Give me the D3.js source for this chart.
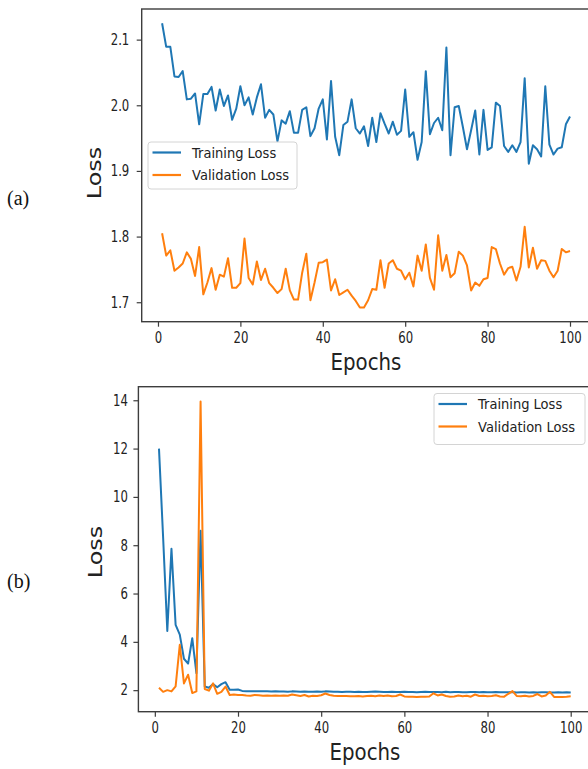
<!DOCTYPE html>
<html>
<head>
<meta charset="utf-8">
<script src="https://cdn.jsdelivr.net/npm/d3@7"></script>
<style>
  body { margin: 0; background: #fff; }
  svg { display: block; font-family: "DejaVu Sans", sans-serif; }
</style>
</head>
<body>
<script>
const W = 588, H = 769;

// epochs 1..100
const epochs = d3.range(1, 101);
const xTicks = [0, 20, 40, 60, 80, 100];
const yTicksA = [1.7, 1.8, 1.9, 2.0, 2.1];
const yTicksB = [2, 4, 6, 8, 10, 12, 14];
const seriesNames = ['Training Loss', 'Validation Loss'];

// panel (a)
const trainA = [
  2.125, 2.089, 2.089, 2.044, 2.043, 2.052, 2.009, 2.010, 2.018, 1.971,
  2.017, 2.017, 2.028, 1.992, 2.024, 1.999, 2.015, 1.978, 1.995, 2.029,
  2.000, 2.012, 1.986, 2.012, 2.032, 1.981, 1.993, 1.986, 1.945, 1.977,
  1.972, 1.991, 1.958, 1.958, 1.993, 1.997, 1.953, 1.965, 1.995, 2.009,
  1.948, 2.037, 1.952, 1.924, 1.970, 1.975, 2.009, 1.965, 1.957, 1.968,
  1.938, 1.981, 1.944, 1.988, 1.972, 1.957, 1.975, 1.955, 1.961, 2.024,
  1.952, 1.959, 1.917, 1.944, 2.052, 1.956, 1.973, 1.981, 1.962, 2.088,
  1.924, 1.997, 1.999, 1.967, 1.933, 1.962, 1.992, 1.925, 1.993, 1.932,
  1.936, 2.004, 1.999, 1.938, 1.929, 1.939, 1.929, 1.944, 2.041, 1.911,
  1.939, 1.933, 1.922, 2.029, 1.940, 1.925, 1.934, 1.936, 1.971, 1.983
];
const valA = [
  1.805, 1.771, 1.779, 1.748, 1.753, 1.759, 1.776, 1.766, 1.740, 1.784,
  1.712, 1.730, 1.752, 1.719, 1.742, 1.739, 1.767, 1.722, 1.722, 1.729,
  1.797, 1.737, 1.727, 1.762, 1.734, 1.751, 1.729, 1.722, 1.714, 1.720,
  1.751, 1.718, 1.704, 1.704, 1.745, 1.774, 1.703, 1.730, 1.760, 1.761,
  1.765, 1.718, 1.735, 1.711, 1.715, 1.719, 1.710, 1.702, 1.692, 1.692,
  1.703, 1.720, 1.719, 1.764, 1.722, 1.759, 1.764, 1.751, 1.748, 1.735,
  1.745, 1.724, 1.771, 1.748, 1.788, 1.737, 1.719, 1.802, 1.748, 1.772,
  1.738, 1.744, 1.777, 1.771, 1.756, 1.718, 1.730, 1.725, 1.735, 1.737,
  1.784, 1.781, 1.759, 1.742, 1.752, 1.754, 1.733, 1.754, 1.815, 1.753,
  1.783, 1.751, 1.764, 1.763, 1.748, 1.738, 1.748, 1.781, 1.776, 1.778
];

// panel (b)
const trainB = [
  12.0, 8.3, 4.45, 7.85, 4.7, 4.3, 3.3, 3.1, 4.15, 2.7,
  8.6, 2.15, 2.1, 2.25, 2.12, 2.25, 2.33, 2.02, 2.02, 2.03,
  1.97, 1.96, 1.96, 1.95, 1.96, 1.95, 1.95, 1.94, 1.95, 1.94,
  1.94, 1.93, 1.95, 1.94, 1.93, 1.94, 1.93, 1.93, 1.94, 1.93,
  1.95, 1.94, 1.93, 1.93, 1.92, 1.93, 1.93, 1.92, 1.93, 1.92,
  1.92, 1.93, 1.94, 1.93, 1.92, 1.92, 1.93, 1.92, 1.92, 1.93,
  1.92, 1.92, 1.91, 1.92, 1.93, 1.92, 1.92, 1.92, 1.91, 1.93,
  1.91, 1.92, 1.92, 1.91, 1.91, 1.92, 1.92, 1.91, 1.92, 1.91,
  1.91, 1.92, 1.91, 1.91, 1.91, 1.92, 1.90, 1.91, 1.91, 1.90,
  1.91, 1.90, 1.91, 1.91, 1.90, 1.90, 1.91, 1.90, 1.91, 1.90
];
const valB = [
  2.1, 1.93, 2.0, 1.95, 2.16, 3.88, 2.28, 2.64, 1.88, 1.95,
  13.95, 2.05, 1.98, 2.28, 1.85, 1.93, 2.15, 1.8, 1.82, 1.8,
  1.8, 1.78, 1.77, 1.8, 1.79, 1.77, 1.78, 1.77, 1.78, 1.77,
  1.78, 1.77, 1.82, 1.79, 1.76, 1.8, 1.74, 1.77, 1.76, 1.79,
  1.86, 1.8, 1.77, 1.76, 1.76, 1.76, 1.75, 1.75, 1.76, 1.74,
  1.76, 1.77, 1.75, 1.78, 1.76, 1.78, 1.75, 1.76, 1.82, 1.74,
  1.73, 1.73, 1.72, 1.73, 1.73, 1.74, 1.87, 1.78, 1.82, 1.76,
  1.73, 1.74, 1.78, 1.75, 1.77, 1.73, 1.82, 1.76, 1.77, 1.75,
  1.76, 1.79, 1.74, 1.73, 1.85, 1.96, 1.76, 1.75, 1.77, 1.74,
  1.76, 1.84, 1.74, 1.78, 1.93, 1.72, 1.72, 1.72, 1.73, 1.75
];

const colors = ['#1f77b4', '#ff7f0e'];
const spineColor = '#3d3d3d';

const svg = d3.select('body').append('svg')
    .attr('width', W)
    .attr('height', H);

svg.append('rect').attr('width', W).attr('height', H).attr('fill', '#fff');

// the picture is squeezed sideways, so text is squeezed too
function sqText(g, str, x, y, size, sx, opt = {}) {
    const t = g.append('g')
        .attr('transform', `translate(${x},${y}) scale(${sx},1)` + (opt.rotate ? ` rotate(${opt.rotate})` : ''))
        .append('text')
        .attr('text-anchor', opt.anchor || 'middle')
        .attr('dominant-baseline', 'central')
        .attr('font-size', size)
        .attr('fill', opt.fill || '#222')
        .text(str);
    if (opt.family) t.attr('font-family', opt.family);
    return t;
}

function drawPanel(p) {
    const g = svg.append('g');

    const n = epochs.length;
    const xPad = (epochs[n - 1] - epochs[0]) * 0.05;
    const x = d3.scaleLinear()
        .domain([epochs[0] - xPad, epochs[n - 1] + xPad])
        .range([p.left, p.right]);

    const all = p.series.flat();
    const lo = d3.min(all), hi = d3.max(all);
    const yPad = (hi - lo) * 0.05;
    const y = d3.scaleLinear()
        .domain([lo - yPad, hi + yPad])
        .range([p.bottom, p.top]);

    // axes
    const xAxis = g.append('g')
        .attr('transform', `translate(0,${p.bottom})`)
        .call(d3.axisBottom(x).tickValues(xTicks).tickSize(5).tickPadding(6).tickFormat(d3.format('d')));
    const yAxis = g.append('g')
        .attr('transform', `translate(${p.left},0)`)
        .call(d3.axisLeft(y).tickValues(p.yTicks).tickSize(5).tickFormat(p.yFmt));

    [xAxis, yAxis].forEach(a => {
        a.select('.domain').remove();
        a.selectAll('.tick line').attr('stroke', spineColor).attr('stroke-width', 1.2);
        a.selectAll('.tick text')
            .attr('font-size', 15)
            .attr('font-family', '"DejaVu Sans", sans-serif')
            .attr('fill', '#222');
    });
    xAxis.selectAll('.tick text').attr('transform', 'scale(0.78,1)');
    yAxis.selectAll('.tick text')
        .attr('x', -p.yLabelGap / 0.78)
        .attr('transform', 'scale(0.78,1)');

    // lines
    const line = d3.line()
        .x((d, i) => x(epochs[i]))
        .y(d => y(d));

    p.series.forEach((s, k) => {
        g.append('path')
            .datum(s)
            .attr('d', line)
            .attr('fill', 'none')
            .attr('stroke', colors[k])
            .attr('stroke-width', 2)
            .attr('stroke-linejoin', 'round');
    });

    // spines
    g.append('rect')
        .attr('x', p.left).attr('y', p.top)
        .attr('width', p.right - p.left).attr('height', p.bottom - p.top)
        .attr('fill', 'none')
        .attr('stroke', spineColor)
        .attr('stroke-width', 1.4);

    // legend
    const lg = g.append('g');
    lg.append('rect')
        .attr('x', p.legend.x).attr('y', p.legend.y)
        .attr('width', p.legend.w).attr('height', p.legend.h)
        .attr('rx', 3)
        .attr('fill', '#fff').attr('fill-opacity', 0.85)
        .attr('stroke', '#d4d4d4');
    seriesNames.forEach((name, k) => {
        const ly = p.legend.y + 10.5 + k * 22.5;
        lg.append('line')
            .attr('x1', p.legend.x + 4.5).attr('x2', p.legend.x + 33)
            .attr('y1', ly).attr('y2', ly)
            .attr('stroke', colors[k]).attr('stroke-width', 2.2);
        sqText(lg, name, p.legend.x + 44, ly, 14.5, 0.9, {anchor: 'start'});
    });

    // axis titles
    sqText(g, 'Epochs', p.xTitle[0], p.xTitle[1], 23, 0.86);
    sqText(g, 'Loss', p.yTitle[0], p.yTitle[1], 24, 0.8, {rotate: -90});

    // panel tag
    svg.append('text')
        .attr('x', 7).attr('y', p.tagY)
        .attr('dominant-baseline', 'central')
        .attr('font-family', '"Liberation Serif", "Times New Roman", serif')
        .attr('font-size', 20)
        .attr('fill', '#111')
        .text(p.tag);
}

drawPanel({
    series: [trainA, valA],
    left: 141.7, right: 590.4, top: 9, bottom: 321.7,
    yTicks: yTicksA, yFmt: d3.format('.1f'), yLabelGap: 12.4,
    legend: {x: 148, y: 142, w: 149, h: 47},
    xTitle: [366, 362], yTitle: [94, 173],
    tag: '(a)', tagY: 198
});

drawPanel({
    series: [trainB, valB],
    left: 138.4, right: 591.3, top: 386.7, bottom: 711.7,
    yTicks: yTicksB, yFmt: d3.format('d'), yLabelGap: 10.5,
    legend: {x: 434, y: 393.5, w: 151, h: 51},
    xTitle: [365, 751.5], yTitle: [95, 552],
    tag: '(b)', tagY: 581
});
</script>
</body>
</html>
